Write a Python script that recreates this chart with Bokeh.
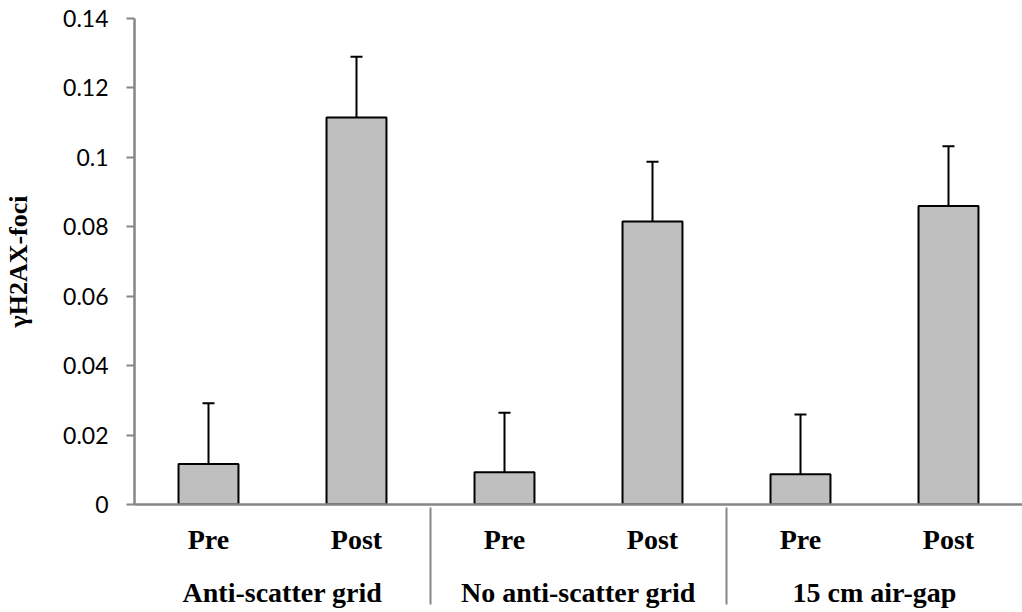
from bokeh.plotting import figure
from bokeh.models import (FactorRange, Range1d, FixedTicker, Whisker, TeeHead,
                          ColumnDataSource, Arrow)
from bokeh.embed import file_html
from bokeh.resources import INLINE

# ---- data ----
groups = ["Anti-scatter grid", "No anti-scatter grid", "15 cm air-gap"]
phases = ["Pre", "Post"]
means = [0.0117, 0.1115, 0.0093, 0.0815, 0.0087, 0.0860]
errors = [0.0175, 0.0175, 0.0171, 0.0172, 0.0172, 0.0172]
y_ticks = [0, 0.02, 0.04, 0.06, 0.08, 0.10, 0.12, 0.14]
y_tick_labels = ["0", "0.02", "0.04", "0.06", "0.08", "0.1", "0.12", "0.14"]
y_title = "γH2AX-foci"

factors = [(g, ph) for g in groups for ph in phases]
src = ColumnDataSource(dict(
    x=factors,
    top=means,
    upper=[m + e for m, e in zip(means, errors)],
))

AXIS_GRAY = "#868686"
SERIF = "Liberation Serif"

p = figure(
    x_range=FactorRange(*factors, group_padding=0, factor_padding=0,
                        range_padding=0),
    y_range=Range1d(0, 0.14),
    width=1022, height=612,
    output_backend="svg", toolbar_location=None,
    min_border_left=134, min_border_right=0,
    min_border_top=18, min_border_bottom=108,
)

p.vbar(x="x", top="top", width=0.405, source=src,
       fill_color="#BFBFBF", line_color="black", line_width=2)

p.add_layout(Whisker(base="x", upper="upper", lower="top", source=src,
                     line_color="black", line_width=2,
                     upper_head=TeeHead(size=12, line_color="black",
                                        line_width=2),
                     lower_head=None))

# left edge separator line under the category axis
p.add_layout(Arrow(x_start=0, y_start=0, x_end=0, y_end=-0.04, end=None,
                   line_color=AXIS_GRAY, line_width=2))

p.outline_line_color = None
p.xgrid.grid_line_color = None
p.ygrid.grid_line_color = None
p.background_fill_color = "white"
p.border_fill_color = "white"

# y axis
ya = p.yaxis[0]
ya.ticker = FixedTicker(ticks=y_ticks)
ya.major_label_overrides = {t: l for t, l in zip(y_ticks, y_tick_labels)}
ya.minor_tick_line_color = None
ya.major_tick_in = 0
ya.major_tick_out = 8
ya.major_tick_line_color = AXIS_GRAY
ya.major_tick_line_width = 2
ya.axis_line_color = AXIS_GRAY
ya.axis_line_width = 2.5
ya.major_label_text_font = "Lato"
ya.major_label_text_font_size = "23px"
ya.major_label_text_color = "black"
ya.major_label_standoff = 18
ya.axis_label = y_title
ya.axis_label_text_font = SERIF
ya.axis_label_text_font_style = "bold"
ya.axis_label_text_font_size = "26px"
ya.axis_label_text_color = "black"
ya.axis_label_standoff = 27

# x axis
xa = p.xaxis[0]
xa.axis_line_color = AXIS_GRAY
xa.axis_line_width = 2.5
xa.major_tick_line_color = None
xa.minor_tick_line_color = None
xa.major_tick_out = 0
xa.major_tick_in = 0
xa.major_label_text_font = SERIF
xa.major_label_text_font_style = "bold"
xa.major_label_text_font_size = "28px"
xa.major_label_text_color = "black"
xa.major_label_standoff = 19
xa.group_text_font = SERIF
xa.group_text_font_style = "bold"
xa.group_text_font_size = "28px"
xa.group_text_color = "black"
xa.separator_line_color = AXIS_GRAY
xa.separator_line_width = 2

open("out.html", "w").write(file_html(p, INLINE))
